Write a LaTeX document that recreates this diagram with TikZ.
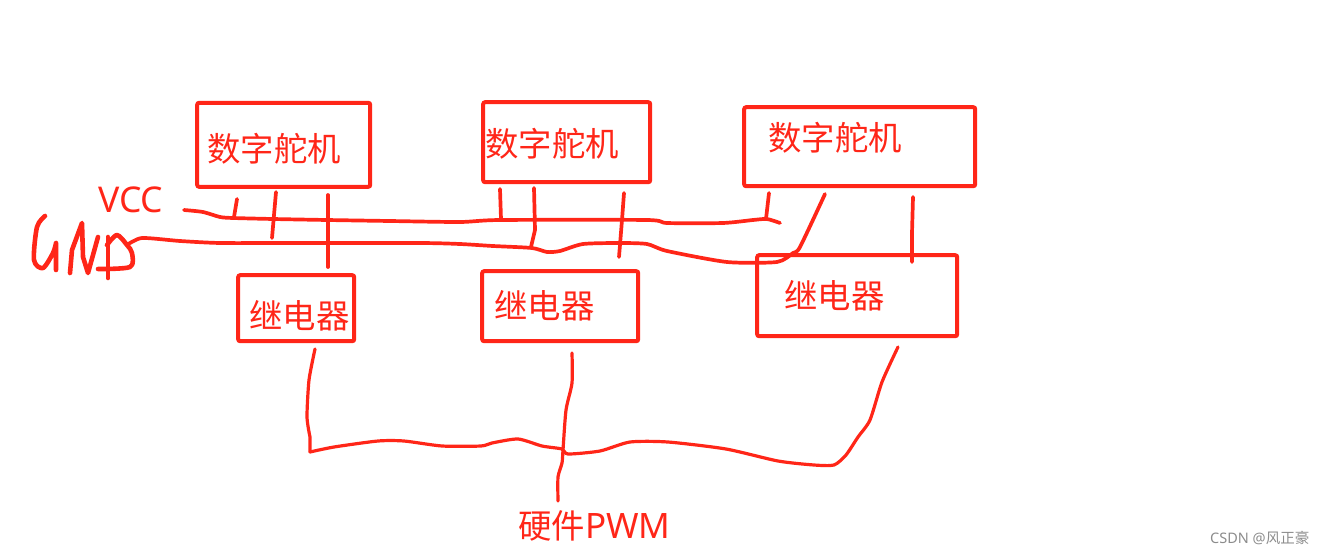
\documentclass[tikz,border=0pt]{standalone}
\usepackage{fontspec}
\setmainfont{Noto Sans}
\newfontfamily\cjk{Noto Sans CJK SC}
\definecolor{pen}{HTML}{FF2618}
\tikzset{
  x=1pt,y=-1pt,
  boxnode/.style={draw=pen,line width=4pt,rounded corners=2pt,inner sep=0pt,outer sep=0pt,anchor=north west},
  lab/.style={text=pen,anchor=west,inner sep=0pt,font=\cjk\fontsize{33.4}{33}\selectfont},
  latin/.style={text=pen,anchor=west,inner sep=0pt,font=\fontsize{35.5}{33}\selectfont},
  wire/.style={draw=pen,line width=3.7pt,line cap=round,line join=round},
  thinwire/.style={wire,line width=3.2pt},
  scrawl/.style={wire,line width=4.6pt},
  mark text/.style={text=black!45,anchor=west,inner sep=0pt,font=\fontsize{14.5}{15}\selectfont}
}
\begin{document}
\begin{tikzpicture}
\useasboundingbox (0,0) rectangle (1325,554);
% boxes
\node[boxnode,minimum width=173pt,minimum height=84pt] (servoA) at (197.2,102.8) {};
\node[boxnode,minimum width=167pt,minimum height=80pt] (servoB) at (483.2,102.2) {};
\node[boxnode,minimum width=231pt,minimum height=79pt] (servoC) at (744.2,107.2) {};
\node[boxnode,minimum width=116pt,minimum height=66pt] (relayA) at (238.2,275.2) {};
\node[boxnode,minimum width=156pt,minimum height=70pt] (relayB) at (482.2,271.2) {};
\node[boxnode,minimum width=200pt,minimum height=81pt] (relayC) at (757.2,255.2) {};
% labels
\node[lab] (ta) at (207,149) {数字舵机};
\node[lab] (tb) at (485,144) {数字舵机};
\node[lab] (tc) at (768,138) {数字舵机};
\node[lab] (ra) at (249,316) {继电器};
\node[lab] (rb) at (494,306) {继电器};
\node[lab] (rc) at (784,296) {继电器};
\node[latin] (vcc) at (98,200) {VCC};
\node[lab] (pwm) at (518,526) {硬件\fontspec{Noto Sans}\fontsize{35}{33}\selectfont PWM};
\node[mark text] (wm) at (1210,538) {CSDN @\cjk 风正豪};
% named wire ends
\coordinate (vccL) at (184,210);
\coordinate (vccR) at (780,223);
\coordinate (gndL) at (127,245);
\coordinate (gndR) at (825,194);
\coordinate (a1) at (237,199); \coordinate (a1b) at (234,217);
\coordinate (a2) at (276,192); \coordinate (a2b) at (272,238);
\coordinate (a3) at (328,195); \coordinate (a3b) at (328,267);
\coordinate (b1) at (500,189); \coordinate (b1b) at (501,219);
\coordinate (b2) at (534,188); \coordinate (b2b) at (531,247);
\coordinate (b3) at (624,193); \coordinate (b3b) at (619,257);
\coordinate (c1) at (769,193); \coordinate (c1b) at (766,219);
\coordinate (c3) at (913,197); \coordinate (c3b) at (912,262);
\coordinate (pA) at (315,349);
\coordinate (pC) at (898,347);
\coordinate (pB) at (572,353);
\coordinate (pwmEnd) at (558,501);
% VCC bus
\draw[wire] plot[smooth,tension=.4] coordinates {(vccL) (203,212) (220,217) (233,218) (273,219) (327,220) (390,221) (460,222) (500,220) (647,220) (667,223) (723,223) (753,220) (767,219) (vccR)};
% GND bus
\draw[wire] plot[smooth,tension=.4] coordinates {(gndL) (142,238) (180,241) (220,243) (287,243) (420,243) (460,244) (493,246) (532,248) (547,252) (560,251) (583,244) (620,243) (647,244) (667,251) (727,262) (777,262) (793,253) (800,247) (gndR)};
% pins
\draw[wire] (a1) -- (a1b);
\draw[wire] (a2) -- (a2b);
\draw[wire] (a3) -- (a3b);
\draw[wire] (b1) -- (b1b);
\draw[wire] (b2) -- (535,230) -- (b2b);
\draw[wire] (b3) -- (622,220) -- (b3b);
\draw[wire] (c1) -- (c1b);
\draw[wire] (c3) -- (912,233) -- (c3b);
% PWM net
\draw[thinwire] plot[smooth,tension=.4] coordinates {(pA) (309,380) (307,417) (310,437)} -- (310,452);
\draw[thinwire] plot[smooth,tension=.4] coordinates {(310,452) (334,447) (378,441) (404,441) (442,446) (481,446) (492,443) (518,439) (542,446) (562,449) (568,454) (600,451) (630,442) (668,442) (726,449) (778,461) (814,465) (834,465) (846,455) (858,437) (870,420) (882,382) (pC)};
\draw[thinwire] plot[smooth,tension=.4] coordinates {(pB) (572,383) (566,410) (563,450) (562,463) (558,477) (pwmEnd)};
% scrawled GND
\draw[scrawl] plot[smooth,tension=.5] coordinates {(45,216) (37,227) (34,260) (43,268) (53,253) (56,243)} -- (56,270);
\draw[scrawl] (70,273) -- (72,250) -- (82,223) -- (83,257) -- (88,273) -- (98,237);
\draw[scrawl] (108,237) -- (108,278);
\draw[scrawl] plot[smooth,tension=.5] coordinates {(98,269) (130,267) (132,253) (127,245) (117,235) (107,245)};
\end{tikzpicture}
\end{document}
